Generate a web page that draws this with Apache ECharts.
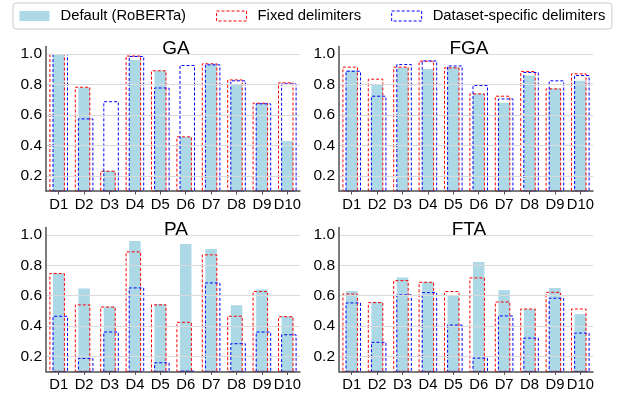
<!DOCTYPE html>
<html>
<head>
<meta charset="utf-8">
<script src="https://cdn.jsdelivr.net/npm/echarts@6/dist/echarts.min.js"></script>
<style>
html,body{margin:0;padding:0;background:#fff;}
#chart{width:618px;height:396px;}
</style>
</head>
<body>
<div id="chart"></div>
<script>
const categories = ['D1','D2','D3','D4','D5','D6','D7','D8','D9','D10'];
const panelTitles = ['GA','FGA','PA','FTA'];
const seriesNames = ['Default (RoBERTa)','Fixed delimiters','Dataset-specific delimiters'];
const yTickValues = [0.2, 0.4, 0.6, 0.8, 1.0];

const gaDefault  = [0.995, 0.78, 0.233, 0.96, 0.89, 0.456, 0.932, 0.803, 0.676, 0.428];
const gaFixed    = [1.0, 0.785, 0.233, 0.99, 0.893, 0.459, 0.939, 0.833, 0.68, 0.814];
const gaSpecific = [1.0, 0.577, 0.69, 0.987, 0.78, 0.928, 0.932, 0.827, 0.676, 0.807];

const fgaDefault  = [0.893, 0.803, 0.912, 0.901, 0.917, 0.741, 0.68, 0.858, 0.774, 0.825];
const fgaFixed    = [0.917, 0.838, 0.917, 0.956, 0.912, 0.741, 0.726, 0.888, 0.774, 0.873];
const fgaSpecific = [0.89, 0.726, 0.934, 0.958, 0.925, 0.796, 0.708, 0.882, 0.827, 0.862];

const paDefault  = [0.747, 0.647, 0.526, 0.96, 0.544, 0.94, 0.907, 0.537, 0.641, 0.464];
const paFixed    = [0.749, 0.542, 0.528, 0.892, 0.542, 0.427, 0.872, 0.467, 0.63, 0.464];
const paSpecific = [0.467, 0.189, 0.363, 0.654, 0.16, 0.105, 0.687, 0.286, 0.363, 0.345];

const ftaDefault  = [0.63, 0.559, 0.72, 0.691, 0.603, 0.821, 0.636, 0.511, 0.65, 0.478];
const ftaFixed    = [0.614, 0.557, 0.702, 0.691, 0.63, 0.72, 0.561, 0.515, 0.625, 0.515];
const ftaSpecific = [0.555, 0.295, 0.608, 0.623, 0.409, 0.191, 0.469, 0.323, 0.586, 0.356];

const panelData = [
  [gaDefault, gaFixed, gaSpecific],
  [fgaDefault, fgaFixed, fgaSpecific],
  [paDefault, paFixed, paSpecific],
  [ftaDefault, ftaFixed, ftaSpecific]
];

const FONT = '"Liberation Sans", Arial, Helvetica, sans-serif';
const FILL = '#add8e6';
const RED = '#ff0000';
const BLUE = '#0000ff';
const AXIS_COLOR = '#505050';

const gridBoxes = [
  {left: 46, top: 46.4, width: 254, height: 144.6},
  {left: 339, top: 46.4, width: 254, height: 144.6},
  {left: 46, top: 227.4, width: 254, height: 144},
  {left: 339, top: 227.4, width: 254, height: 144}
];
const titlePos = [
  {left: 173, top: 39}, {left: 466, top: 39},
  {left: 173, top: 220.5}, {left: 466, top: 220.5}
];

const grids = [], xAxes = [], yAxes = [], series = [], titles = [];
gridBoxes.forEach((g, p) => {
  grids.push(Object.assign({containLabel: false}, g));
  titles.push({
    text: panelTitles[p], left: titlePos[p].left, top: titlePos[p].top,
    textAlign: 'center', padding: [0, 3], backgroundColor: '#fff',
    textStyle: {fontFamily: FONT, fontSize: 19, fontWeight: 'normal', color: '#000'}
  });
  xAxes.push({
    type: 'category', gridIndex: p, data: categories, z: 10,
    axisLine: {show: true, lineStyle: {color: AXIS_COLOR, width: 1.5}},
    axisTick: {show: true, alignWithLabel: true, length: 3.5, lineStyle: {color: AXIS_COLOR, width: 1}},
    axisLabel: {interval: 0, margin: 6, fontFamily: FONT, fontSize: 14.8, color: '#000'},
    splitLine: {show: false}
  });
  xAxes.push({
    type: 'category', gridIndex: p, data: categories, show: false
  });
  yAxes.push({
    type: 'value', gridIndex: p, min: 0.1, max: 1.05, interval: 0.1, z: 10,
    axisLine: {show: true, lineStyle: {color: AXIS_COLOR, width: 1.5}},
    axisTick: {show: false},
    axisLabel: {
      margin: 4, fontFamily: FONT, fontSize: 15.5, color: '#000',
      formatter: function (v) {
        for (const t of yTickValues) { if (Math.abs(v - t) < 1e-6) return t.toFixed(1); }
        return '';
      }
    },
    splitLine: {show: true, lineStyle: {color: ['rgba(0,0,0,0)', '#dadada'], width: 1.2}}
  });
  const [dDef, dFix, dSpec] = panelData[p];
  series.push({
    name: seriesNames[0], type: 'bar', xAxisIndex: 2 * p, yAxisIndex: p,
    data: dDef, barWidth: 11.5, z: 2,
    itemStyle: {color: FILL}
  });
  series.push({
    name: seriesNames[1], type: 'bar', xAxisIndex: 2 * p + 1, yAxisIndex: p,
    data: dFix, barWidth: 15.5, barGap: '-80%', z: 3,
    itemStyle: {color: 'rgba(0,0,0,0)', borderColor: RED, borderWidth: 1, borderType: [3, 2]}
  });
  series.push({
    name: seriesNames[2], type: 'bar', xAxisIndex: 2 * p + 1, yAxisIndex: p,
    data: dSpec, barWidth: 15.5, barGap: '-80%', z: 4,
    itemStyle: {color: 'rgba(0,0,0,0)', borderColor: BLUE, borderWidth: 1, borderType: [3, 2]}
  });
});

const chart = echarts.init(document.getElementById('chart'), null, {renderer: 'canvas'});
chart.setOption({
  animation: false,
  backgroundColor: '#fff',
  title: titles,
  legend: {
    left: 13, top: 3,
    padding: [5.5, 6.5, 5.5, 6.5],
    borderColor: '#cccccc', borderWidth: 1, borderRadius: 3,
    backgroundColor: '#fff',
    itemWidth: 30, itemHeight: 10, itemGap: 30,
    textStyle: {fontFamily: FONT, fontSize: 14.8, color: '#000', padding: [0, 0, 0, 6]},
    selectedMode: false,
    data: [
      {name: seriesNames[0], icon: 'rect', itemStyle: {color: FILL, borderWidth: 0}},
      {name: seriesNames[1], icon: 'rect', itemStyle: {color: 'rgba(0,0,0,0)', borderColor: RED, borderWidth: 1, borderType: [3, 2]}},
      {name: seriesNames[2], icon: 'rect', itemStyle: {color: 'rgba(0,0,0,0)', borderColor: BLUE, borderWidth: 1, borderType: [3, 2]}}
    ]
  },
  grid: grids,
  xAxis: xAxes,
  yAxis: yAxes,
  series: series
});
</script>
</body>
</html>
